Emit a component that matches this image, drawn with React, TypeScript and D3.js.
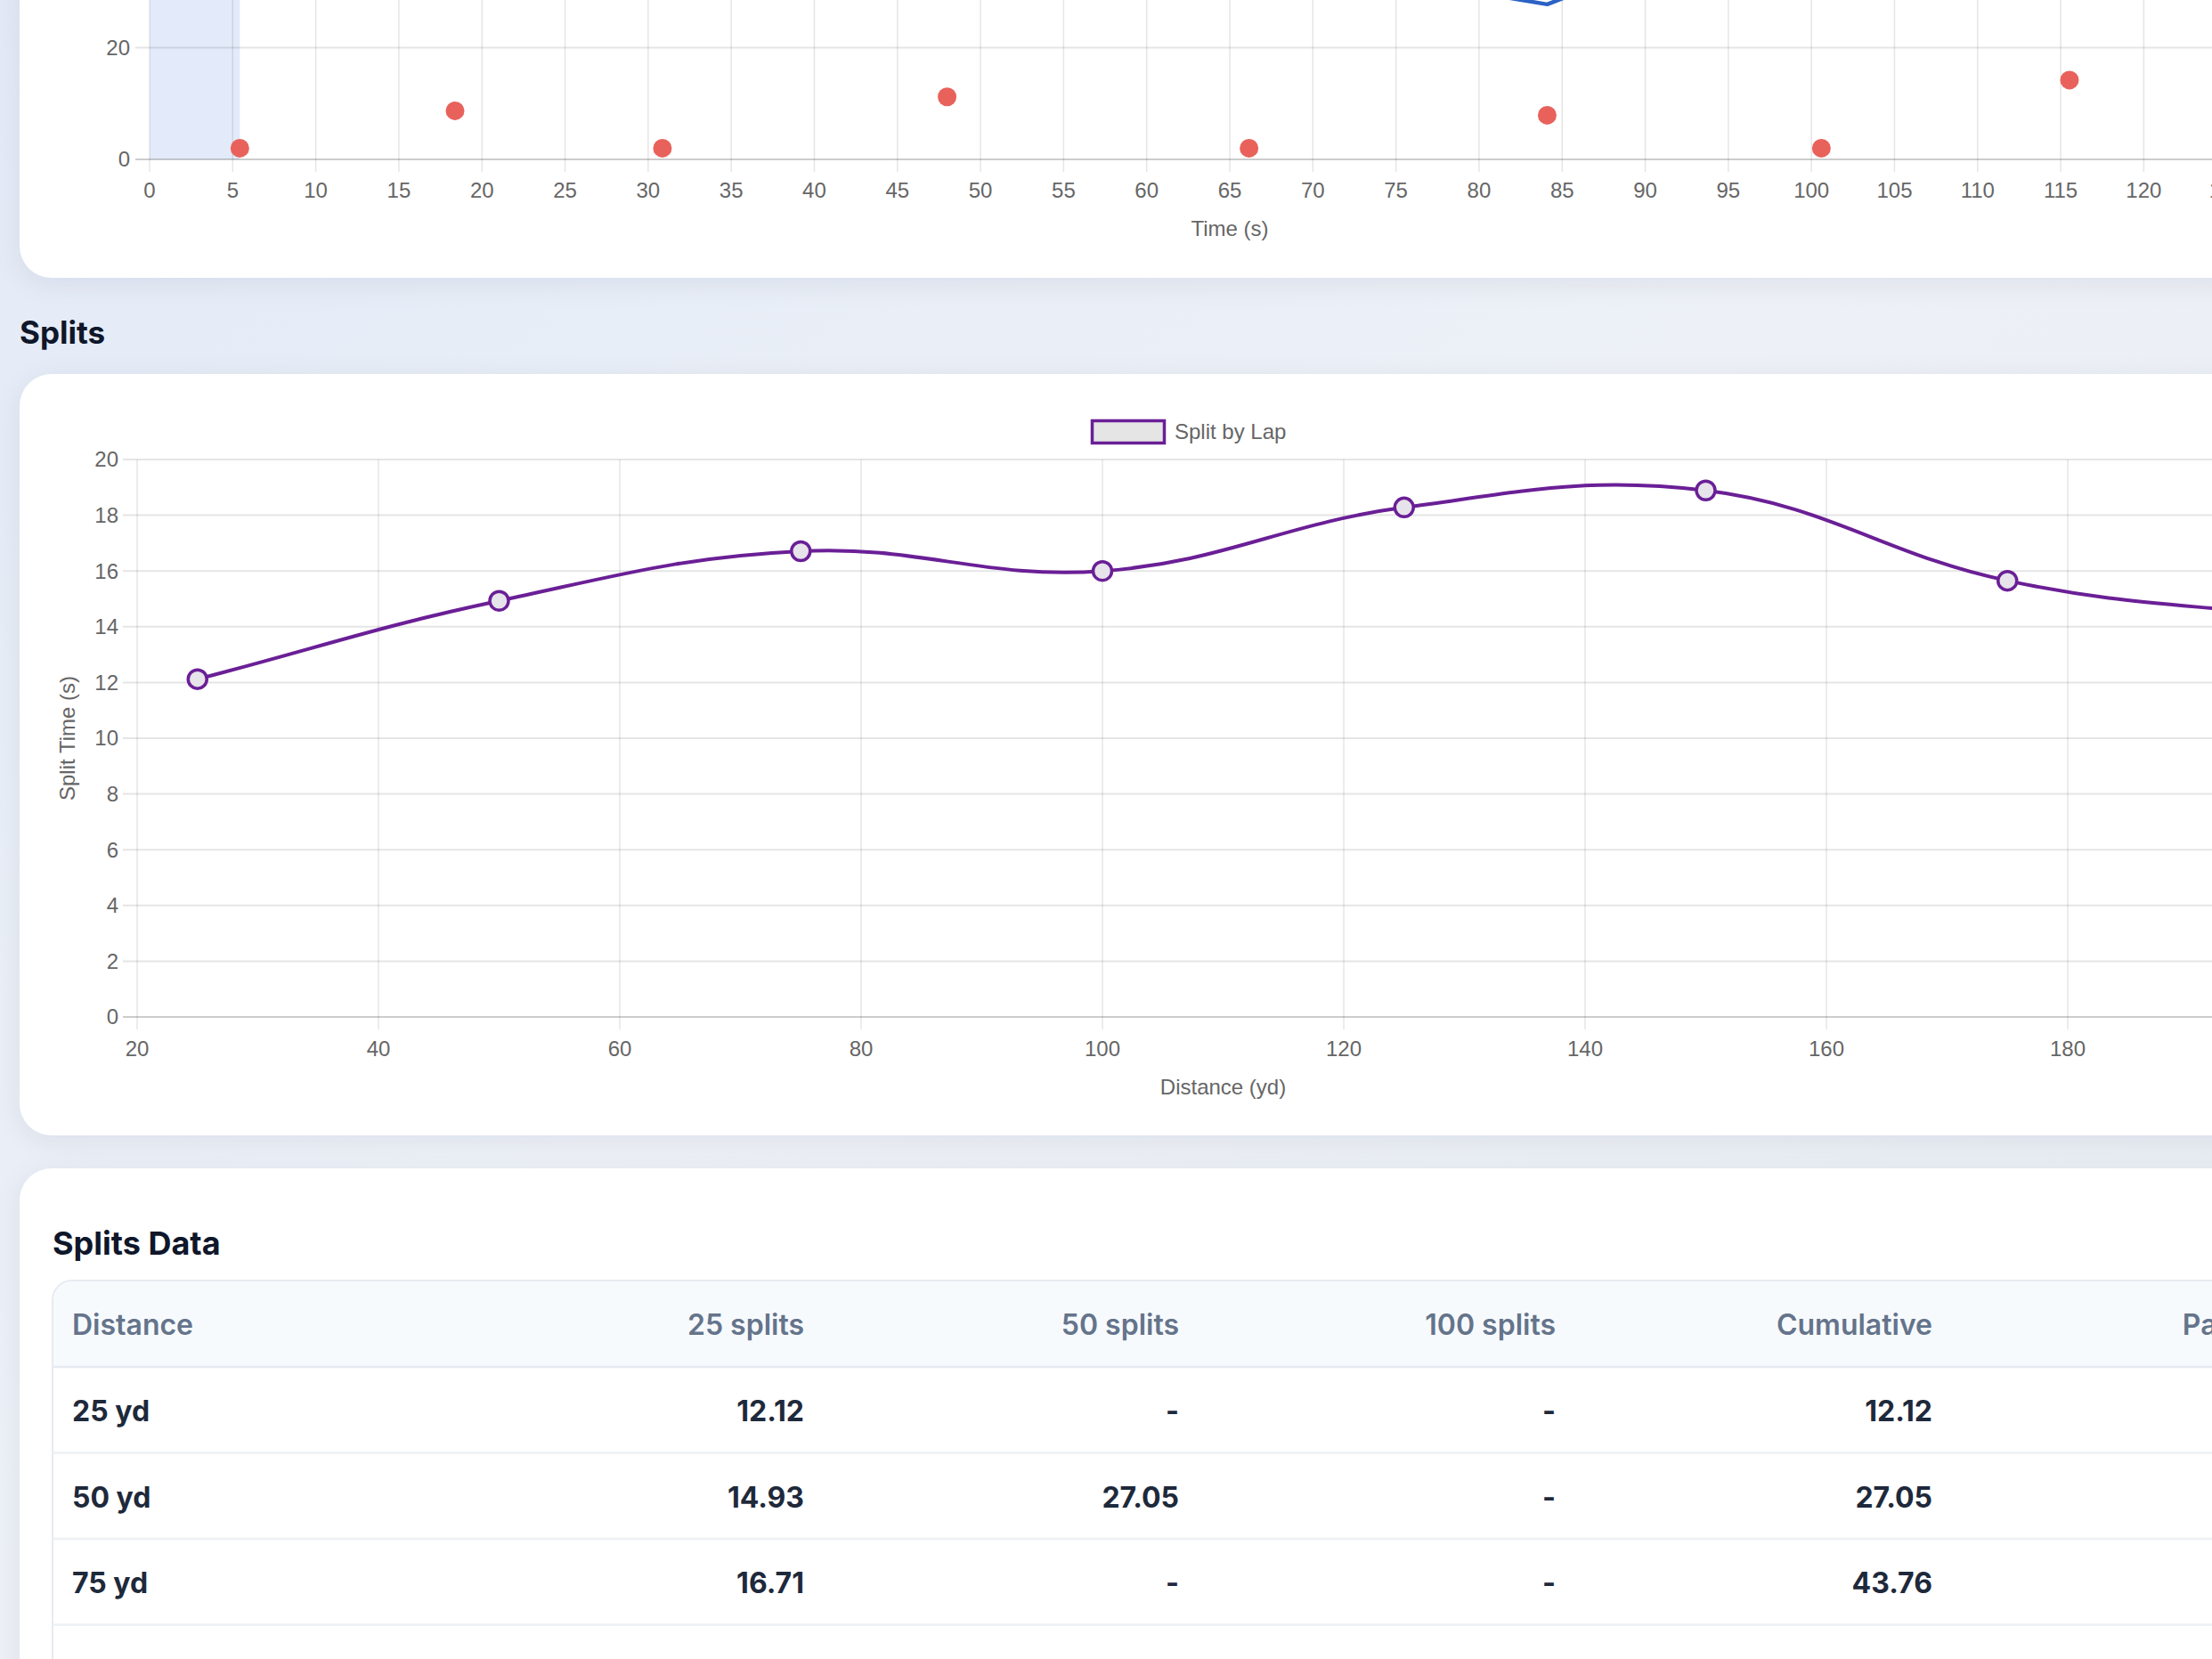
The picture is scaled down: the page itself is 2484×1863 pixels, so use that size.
import React, { useRef, useEffect } from 'react';
import * as d3 from 'd3';

// top chart: events over time
const eventTimes = [5.43, 18.38, 30.86, 47.99, 66.16, 84.1, 100.6, 115.53];
const eventValues = [2, 8.7, 2, 11.2, 2, 7.9, 2, 14.2];
const blueTimes = [66.16, 84.1, 100.6];
const blueValues = [36.7, 27.75, 46.7];
const highlightRange = [0, 5.43];

// splits chart
const lapDistances = [25, 50, 75, 100, 125, 150, 175, 200];
const lapSplits = [12.12, 14.93, 16.71, 16.0, 18.28, 18.89, 15.65, 14.3];

// splits table
const tableHeaders = ['Distance', '25 splits', '50 splits', '100 splits', 'Cumulative', 'Pace /100'];
const rowLabels = ['25 yd', '50 yd', '75 yd'];
const splits25 = ['12.12', '14.93', '16.71'];
const splits50 = ['-', '27.05', '-'];
const splits100 = ['-', '-', '-'];
const cumulative = ['12.12', '27.05', '43.76'];

const W = 2484;
const H = 1863;
const chartFont = "'Liberation Sans', Arial, Helvetica, sans-serif";
const uiFont = "Inter, 'Noto Sans', sans-serif";

// Chart.js style spline (tension 0.4) in pixel space
function splinePath(pts: [number, number][], t: number) {
    const cps = pts.map((p, i) => {
        const prev = pts[i - 1] || p;
        const next = pts[i + 1] || p;
        const d01 = Math.hypot(p[0] - prev[0], p[1] - prev[1]);
        const d12 = Math.hypot(next[0] - p[0], next[1] - p[1]);
        const s01 = d01 + d12 === 0 ? 0 : d01 / (d01 + d12);
        const s12 = d01 + d12 === 0 ? 0 : d12 / (d01 + d12);
        const fa = t * s01;
        const fb = t * s12;
        return {
            prev: [p[0] - fa * (next[0] - prev[0]), p[1] - fa * (next[1] - prev[1])],
            next: [p[0] + fb * (next[0] - prev[0]), p[1] + fb * (next[1] - prev[1])],
        };
    });
    const path = d3.path();
    path.moveTo(pts[0][0], pts[0][1]);
    for (let i = 1; i < pts.length; i++) {
        path.bezierCurveTo(cps[i - 1].next[0], cps[i - 1].next[1], cps[i].prev[0], cps[i].prev[1], pts[i][0], pts[i][1]);
    }
    return path.toString();
}

const App: React.FC = () => {
    const svgRef = useRef<SVGSVGElement | null>(null);

    useEffect(() => {
        if (!svgRef.current) return;
        const svg = d3.select(svgRef.current);
        svg.selectAll('*').remove();

        const defs = svg.append('defs');
        const bg = defs.append('linearGradient').attr('id', 'bg').attr('x1', 0).attr('y1', 0).attr('x2', 1).attr('y2', 1);
        bg.append('stop').attr('offset', '0%').attr('stop-color', '#e3eaf7');
        bg.append('stop').attr('offset', '50%').attr('stop-color', '#edf1f7');
        bg.append('stop').attr('offset', '100%').attr('stop-color', '#e7ecf3');
        const sh = defs.append('filter').attr('id', 'shadow').attr('x', '-10%').attr('y', '-10%').attr('width', '130%').attr('height', '130%');
        sh.append('feDropShadow').attr('dx', 0).attr('dy', 6).attr('stdDeviation', 14)
            .attr('flood-color', '#1e293b').attr('flood-opacity', 0.07);

        svg.append('rect').attr('width', W).attr('height', H).attr('fill', 'url(#bg)');

        // cards
        const cards = [[-200, 512], [420, 855], [1312, 800]];
        cards.forEach(([y, h]) => {
            svg.append('rect').attr('x', 22).attr('y', y).attr('width', 2800).attr('height', h)
                .attr('rx', 36).attr('fill', '#ffffff').attr('filter', 'url(#shadow)');
        });

        // ---------- top chart ----------
        const xT = d3.scaleLinear().domain([0, 130]).range([168, 2594]);
        const yT = d3.scaleLinear().domain([0, 40]).range([179, -72]);
        const top = svg.append('g').style('font-family', chartFont);

        top.append('rect')
            .attr('x', xT(highlightRange[0])).attr('y', yT(40))
            .attr('width', xT(highlightRange[1]) - xT(highlightRange[0]))
            .attr('height', yT(0) - yT(40))
            .attr('fill', '#e3ebfa');

        const tTicks = xT.ticks(26);
        top.selectAll('.vg').data(tTicks).enter().append('line')
            .attr('x1', d => xT(d)).attr('x2', d => xT(d))
            .attr('y1', yT(40)).attr('y2', yT(0) + 14)
            .attr('stroke', 'rgba(0,0,0,0.1)').attr('stroke-width', 1.5);
        top.selectAll('.hg').data([0, 20, 40]).enter().append('line')
            .attr('x1', xT(0) - 16).attr('x2', W)
            .attr('y1', d => yT(d)).attr('y2', d => yT(d))
            .attr('stroke', d => (d === 0 ? 'rgba(0,0,0,0.2)' : 'rgba(0,0,0,0.1)'))
            .attr('stroke-width', 2);
        top.selectAll('.xl').data(tTicks).enter().append('text')
            .attr('x', d => xT(d)).attr('y', 214).attr('dy', '0.35em')
            .attr('text-anchor', 'middle').attr('font-size', 24).attr('fill', '#666')
            .text(d => String(d));
        top.selectAll('.yl').data([0, 20]).enter().append('text')
            .attr('x', 146).attr('y', d => yT(d)).attr('dy', '0.35em')
            .attr('text-anchor', 'end').attr('font-size', 24).attr('fill', '#666')
            .text(d => String(d));
        top.append('text').attr('x', (xT.range()[0] + xT.range()[1]) / 2).attr('y', 257).attr('dy', '0.35em')
            .attr('text-anchor', 'middle').attr('font-size', 24).attr('fill', '#666').text('Time (s)');

        const blueLine = d3.line<number>().x(d => xT(blueTimes[d])).y(d => yT(blueValues[d]));
        top.append('path').attr('d', blueLine(d3.range(blueTimes.length)))
            .attr('fill', 'none').attr('stroke', '#2b62c4').attr('stroke-width', 4.5).attr('stroke-linejoin', 'round');

        top.selectAll('.ev').data(eventTimes).enter().append('circle')
            .attr('cx', d => xT(d)).attr('cy', (_, i) => yT(eventValues[i]))
            .attr('r', 10.5).attr('fill', '#e8625b');

        // ---------- splits heading ----------
        svg.append('text').attr('x', 22).attr('y', 374).attr('dy', '0.35em')
            .attr('font-family', uiFont).attr('font-weight', 700).attr('font-size', 35)
            .attr('fill', '#0f172a').text('Splits');

        // ---------- splits chart ----------
        const x = d3.scaleLinear().domain([20, 200]).range([154, 2593]);
        const y = d3.scaleLinear().domain([0, 20]).range([1142, 516]);
        const g = svg.append('g').style('font-family', chartFont);

        const xTicks = x.ticks(9);
        const yTicks = y.ticks(10);
        g.selectAll('.vg').data(xTicks).enter().append('line')
            .attr('x1', d => x(d)).attr('x2', d => x(d))
            .attr('y1', y(20)).attr('y2', y(0) + 14)
            .attr('stroke', 'rgba(0,0,0,0.1)').attr('stroke-width', 1.5);
        g.selectAll('.hg').data(yTicks).enter().append('line')
            .attr('x1', x(20) - 16).attr('x2', W)
            .attr('y1', d => y(d)).attr('y2', d => y(d))
            .attr('stroke', d => (d === 0 ? 'rgba(0,0,0,0.2)' : 'rgba(0,0,0,0.1)'))
            .attr('stroke-width', 2);
        g.selectAll('.xl').data(xTicks).enter().append('text')
            .attr('x', d => x(d)).attr('y', 1178).attr('dy', '0.35em')
            .attr('text-anchor', 'middle').attr('font-size', 24).attr('fill', '#666')
            .text(d => String(d));
        g.selectAll('.yl').data(yTicks).enter().append('text')
            .attr('x', 133).attr('y', d => y(d)).attr('dy', '0.35em')
            .attr('text-anchor', 'end').attr('font-size', 24).attr('fill', '#666')
            .text(d => String(d));
        g.append('text').attr('x', (x.range()[0] + x.range()[1]) / 2).attr('y', 1221).attr('dy', '0.35em')
            .attr('text-anchor', 'middle').attr('font-size', 24).attr('fill', '#666').text('Distance (yd)');
        g.append('text').attr('transform', 'translate(76,829) rotate(-90)').attr('dy', '0.35em')
            .attr('text-anchor', 'middle').attr('font-size', 24).attr('fill', '#666').text('Split Time (s)');

        // legend
        g.append('rect').attr('x', 1226.5).attr('y', 472.5).attr('width', 81).attr('height', 25)
            .attr('fill', '#e5e5e5').attr('stroke', '#6a1f96').attr('stroke-width', 3.5);
        g.append('text').attr('x', 1319).attr('y', 485).attr('dy', '0.35em')
            .attr('font-size', 24).attr('fill', '#666').text('Split by Lap');

        const pts = lapDistances.map((d, i) => [x(d), y(lapSplits[i])] as [number, number]);
        g.append('path').attr('d', splinePath(pts, 0.4))
            .attr('fill', 'none').attr('stroke', '#6a1f96').attr('stroke-width', 4);
        g.selectAll('.pt').data(lapDistances).enter().append('circle')
            .attr('cx', d => x(d)).attr('cy', (_, i) => y(lapSplits[i]))
            .attr('r', 10.5).attr('fill', '#e6e3ea').attr('stroke', '#6a1f96').attr('stroke-width', 3.5);

        // ---------- splits table ----------
        const tbl = svg.append('g').style('font-family', uiFont);
        tbl.append('text').attr('x', 59).attr('y', 1396).attr('dy', '0.35em')
            .attr('font-weight', 700).attr('font-size', 36).attr('fill', '#0f172a').text('Splits Data');

        const tableX = 59;
        const tableY = 1438;
        const headerH = 97;
        const rowH = 96.5;
        tbl.append('rect').attr('x', tableX).attr('y', tableY).attr('width', 2800).attr('height', 900)
            .attr('rx', 22).attr('fill', '#ffffff').attr('stroke', '#e6ebf1').attr('stroke-width', 2);
        const hp = d3.path();
        hp.moveTo(tableX + 1, tableY + headerH);
        hp.lineTo(tableX + 1, tableY + 22);
        hp.arcTo(tableX + 1, tableY + 1, tableX + 22, tableY + 1, 21);
        hp.lineTo(2900, tableY + 1);
        hp.lineTo(2900, tableY + headerH);
        hp.closePath();
        tbl.append('path').attr('d', hp.toString()).attr('fill', '#f7fafd');
        tbl.append('line').attr('x1', tableX).attr('x2', W).attr('y1', tableY + headerH).attr('y2', tableY + headerH)
            .attr('stroke', '#e6ebf1').attr('stroke-width', 2.5);

        const colRight = [903, 1324, 1747, 2170, 2603];
        const colX = (i: number) => (i === 0 ? 81 : colRight[i - 1]);
        const anchor = (i: number) => (i === 0 ? 'start' : 'end');
        tbl.selectAll('.th').data(tableHeaders).enter().append('text')
            .attr('x', (_, i) => colX(i)).attr('y', tableY + headerH / 2 + 1).attr('dy', '0.35em')
            .attr('text-anchor', (_, i) => anchor(i))
            .attr('font-weight', 600).attr('font-size', 32).attr('fill', '#64748b')
            .text(d => d);

        const columns = [rowLabels, splits25, splits50, splits100, cumulative];
        rowLabels.forEach((_, r) => {
            const cy = tableY + headerH + rowH * r + rowH / 2 + 2;
            columns.forEach((col, c) => {
                tbl.append('text').attr('x', colX(c)).attr('y', cy).attr('dy', '0.35em')
                    .attr('text-anchor', anchor(c))
                    .attr('font-weight', 700).attr('font-size', 32).attr('fill', '#1e293b')
                    .text(col[r]);
            });
            tbl.append('line').attr('x1', tableX).attr('x2', W)
                .attr('y1', tableY + headerH + rowH * (r + 1)).attr('y2', tableY + headerH + rowH * (r + 1))
                .attr('stroke', '#edf0f4').attr('stroke-width', 2.5);
        });
    }, []);

    return (
        <div style={{ position: 'fixed', left: 0, top: 0, width: W, height: H, overflow: 'hidden' }}>
            <svg ref={svgRef} width={W} height={H} style={{ display: 'block' }} />
        </div>
    );
};

export default App;
